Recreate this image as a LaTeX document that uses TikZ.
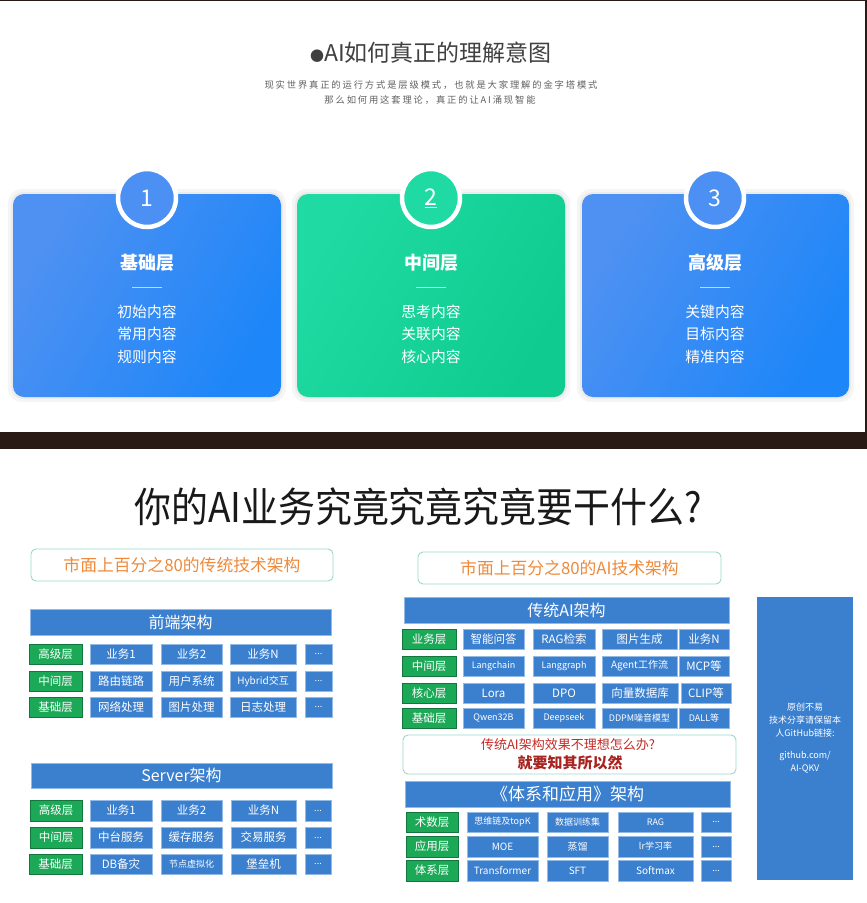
\documentclass[tikz,border=0pt]{standalone}
\usepackage{fontspec}
\newfontfamily\cjk{Noto Sans CJK SC}
\newfontfamily\cjkls[LetterSpace=20]{Noto Sans CJK SC}
\definecolor{bbox}{HTML}{3B7FCF}
\definecolor{gbox}{HTML}{1BA957}
\definecolor{cardA}{HTML}{4F91F2}
\definecolor{cardB}{HTML}{1D86F8}
\definecolor{cardGA}{HTML}{1FDBA3}
\definecolor{cardGB}{HTML}{0FCB8F}
\definecolor{darkband}{HTML}{2A1A15}
\definecolor{orangeT}{HTML}{EE8A3A}
\definecolor{redT}{HTML}{C62A27}
\definecolor{tealB}{HTML}{9AD8CC}
\newcommand\bx[7]{\node[#6, minimum width={(#4)-(#2)}, minimum height={(#5)-(#3)}] (#1) at ({(#2+#4)/2},{(#3+#5)/2}) {#7};}
\begin{document}
\begin{tikzpicture}[x=1pt,y=-1pt,
  every node/.style={font=\cjk, inner sep=0pt},
  f12/.style={font=\cjk\fontsize{11.5}{12}\selectfont},
  f10/.style={font=\cjk\fontsize{10}{11}\selectfont},
  f9/.style={font=\cjk\fontsize{9}{10}\selectfont},
  bb/.style={fill=bbox, draw=bbox!55!white, line width=0.6pt, text=white, f12},
  gb/.style={fill=gbox, draw=gbox!70!black, line width=0.6pt, text=white, f12},
  bar/.style={fill=bbox, draw=bbox!55!white, line width=0.6pt, text=white, font=\cjk\fontsize{16}{17}\selectfont},
  hdr/.style={draw=tealB, line width=0.9pt, rounded corners=5pt, fill=white},
  numc/.style={circle, draw=white, line width=4.5pt, minimum size=58pt, text=white, font=\cjk\fontsize{23}{23}\selectfont},
  ctitle/.style={text=white, font=\cjk\bfseries\fontsize{18}{18}\selectfont},
  citems/.style={text=white, align=center, font=\cjk\fontsize{14.8}{22.5}\selectfont}
]
\useasboundingbox (0,0) rectangle (867,903);
\fill[white] (0,0) rectangle (867,903);
\fill[darkband] (0,432) rectangle (867,449);
\fill[darkband] (865,0) rectangle (867,432);
\fill[darkband] (0,0) rectangle (865,1);

% ---------- top section ----------
\node[font=\cjk\fontsize{23}{23}\selectfont, text=black!75] (t1) at (431,53) {{\fontsize{14}{14}\selectfont ●}AI如何真正的理解意图};
\node[font=\cjkls\fontsize{9.3}{10}\selectfont, text=black!62] (s1) at (431,85) {现实世界真正的运行方式是层级模式，也就是大家理解的金字塔模式};
\node[font=\cjkls\fontsize{9.3}{10}\selectfont, text=black!62] (s2) at (430,100) {那么如何用这套理论，真正的让AI涌现智能};

% card shadows
\foreach \a/\b in {13/281, 297/565, 582/849}{
  \fill[black, opacity=0.04, rounded corners=14pt] (\a-5,189) rectangle (\b+5,402);
  \fill[black, opacity=0.04, rounded corners=12pt] (\a-2,192) rectangle (\b+2,399);
}
\shade[rounded corners=11pt, left color=cardA, right color=cardB, shading angle=60] (13,194) rectangle (281,397);
\shade[rounded corners=11pt, left color=cardGA, right color=cardGB, shading angle=60] (297,194) rectangle (565,397);
\shade[rounded corners=11pt, left color=cardA, right color=cardB, shading angle=60] (582,194) rectangle (849,397);

\node[numc, fill=cardA!92!cardB] (n1) at (147,198) {1};
\node[numc, fill=cardGA] (n2) at (431,198) {\underline{2}};
\node[numc, fill=cardA!92!cardB] (n3) at (715,198) {3};

\node[ctitle] (h1) at (147,263) {基础层};
\node[ctitle] (h2) at (431,263) {中间层};
\node[ctitle] (h3) at (715,263) {高级层};
\draw[white!65!cardA, line width=0.6pt] (132,287) -- (162,287);
\draw[white!65!cardGA, line width=0.6pt] (416,287) -- (446,287);
\draw[white!65!cardA, line width=0.6pt] (700,287) -- (730,287);
\node[citems] (c1) at (147,334) {初始内容\\常用内容\\规则内容};
\node[citems] (c2) at (431,334) {思考内容\\关联内容\\核心内容};
\node[citems] (c3) at (715,334) {关键内容\\目标内容\\精准内容};

% ---------- bottom section ----------
\node[font=\cjk\fontsize{41}{41}\selectfont, xscale=0.9, text=black!90] (mt) at (418,507) {你的AI业务究竟究竟究竟要干什么?};

% left panel
\bx{lh}{31}{549}{333}{581}{hdr, text=orangeT, font=\cjk\fontsize{16.8}{17}\selectfont}{市面上百分之80的传统技术架构}
\bx{fe}{30}{609}{331}{635}{bar}{前端架构}
\bx{fa1}{29}{644}{82}{664}{gb}{高级层}
\bx{fa2}{90}{644}{152}{664}{bb}{业务1}
\bx{fa3}{161}{644}{222}{664}{bb}{业务2}
\bx{fa4}{230}{644}{296}{664}{bb}{业务N}
\bx{fa5}{305}{644}{332}{664}{bb,f9}{...}
\bx{fb1}{29}{671}{82}{691}{gb}{中间层}
\bx{fb2}{90}{671}{152}{691}{bb}{路由链路}
\bx{fb3}{161}{671}{222}{691}{bb}{用户系统}
\bx{fb4}{230}{671}{296}{691}{bb,f10}{Hybrid交互}
\bx{fb5}{305}{671}{332}{691}{bb,f9}{...}
\bx{fc1}{29}{697}{82}{717}{gb}{基础层}
\bx{fc2}{90}{697}{152}{717}{bb}{网络处理}
\bx{fc3}{161}{697}{222}{717}{bb}{图片处理}
\bx{fc4}{230}{697}{296}{717}{bb}{日志处理}
\bx{fc5}{305}{697}{332}{717}{bb,f9}{...}

\bx{sv}{31}{763}{332}{788}{bar}{Server架构}
\bx{sa1}{30}{800}{82}{821}{gb}{高级层}
\bx{sa2}{90}{800}{152}{821}{bb}{业务1}
\bx{sa3}{161}{800}{222}{821}{bb}{业务2}
\bx{sa4}{231}{800}{296}{821}{bb}{业务N}
\bx{sa5}{305}{800}{331}{821}{bb,f9}{...}
\bx{sb1}{30}{827}{82}{848}{gb}{中间层}
\bx{sb2}{90}{827}{152}{848}{bb}{中台服务}
\bx{sb3}{161}{827}{222}{848}{bb}{缓存服务}
\bx{sb4}{231}{827}{296}{848}{bb}{交易服务}
\bx{sb5}{305}{827}{331}{848}{bb,f9}{...}
\bx{sc1}{29}{854}{82}{874}{gb}{基础层}
\bx{sc2}{90}{854}{152}{874}{bb}{DB备灾}
\bx{sc3}{161}{854}{222}{874}{bb,f9}{节点虚拟化}
\bx{sc4}{231}{854}{296}{874}{bb}{堡垒机}
\bx{sc5}{305}{854}{331}{874}{bb,f9}{...}

% right panel
\bx{rh}{418}{552}{721}{584}{hdr, text=orangeT, font=\cjk\fontsize{16.8}{17}\selectfont}{市面上百分之80的AI技术架构}
\bx{ai}{404}{597}{729}{623}{bar}{传统AI架构}
\bx{ra1}{402}{629}{456}{649}{gb}{业务层}
\bx{ra2}{463}{629}{524}{649}{bb}{智能问答}
\bx{ra3}{533}{629}{595}{649}{bb}{RAG检索}
\bx{ra4}{602}{629}{677}{649}{bb}{图片生成}
\bx{ra5}{679}{629}{729}{649}{bb}{业务N}
\bx{rb1}{402}{656}{456}{676}{gb}{中间层}
\bx{rb2}{463}{656}{524}{676}{bb,f9}{Langchain}
\bx{rb3}{533}{656}{595}{676}{bb,f9}{Langgraph}
\bx{rb4}{602}{656}{677}{676}{bb,f10}{Agent工作流}
\bx{rb5}{679}{656}{729}{676}{bb}{MCP等}
\bx{rc1}{402}{683}{456}{703}{gb}{核心层}
\bx{rc2}{463}{683}{524}{703}{bb}{Lora}
\bx{rc3}{533}{683}{595}{703}{bb}{DPO}
\bx{rc4}{602}{683}{678}{703}{bb}{向量数据库}
\bx{rc5}{681}{683}{731}{703}{bb}{CLIP等}
\bx{rd1}{402}{708}{456}{728}{gb}{基础层}
\bx{rd2}{463}{708}{524}{728}{bb,f9}{Qwen32B}
\bx{rd3}{533}{708}{595}{728}{bb,f9}{Deepseek}
\bx{rd4}{602}{708}{677}{728}{bb,f9}{DDPM噪音模型}
\bx{rd5}{679}{708}{729}{728}{bb,f9}{DALL等}

\bx{qb}{403}{735}{736}{774}{hdr}{}
\node[text=redT, font=\cjk\fontsize{13}{13}\selectfont] (q1) at (568,745) {传统AI架构效果不理想怎么办?};
\node[text=redT!85!black, font=\cjk\bfseries\fontsize{15}{15}\selectfont] (q2) at (570,763) {就要知其所以然};

\bx{ys}{405}{781}{730}{807}{bar, font=\cjk\fontsize{17}{17}\selectfont}{《体系和应用》架构}
\bx{ya1}{406}{812}{458}{832}{gb}{术数层}
\bx{ya2}{467}{812}{538}{832}{bb,f9}{思维链及topK}
\bx{ya3}{547}{812}{608}{832}{bb,f9}{数据训练集}
\bx{ya4}{618}{812}{693}{832}{bb,f9}{RAG}
\bx{ya5}{701}{812}{731}{832}{bb,f9}{...}
\bx{yb1}{406}{836}{458}{857}{gb}{应用层}
\bx{yb2}{467}{836}{538}{857}{bb,f10}{MOE}
\bx{yb3}{547}{836}{608}{857}{bb,f10}{蒸馏}
\bx{yb4}{618}{836}{693}{857}{bb,f9}{lr学习率}
\bx{yb5}{701}{836}{731}{857}{bb,f9}{...}
\bx{yc1}{406}{860}{458}{881}{gb}{体系层}
\bx{yc2}{467}{860}{538}{881}{bb,f10}{Transformer}
\bx{yc3}{547}{860}{608}{881}{bb,f10}{SFT}
\bx{yc4}{618}{860}{693}{881}{bb,f10}{Softmax}
\bx{yc5}{701}{860}{731}{881}{bb,f9}{...}

\bx{vb}{757}{597}{853}{880}{fill=bbox}{}
\node[text=white, align=center, font=\cjk\fontsize{9}{13}\selectfont] (vt) at (805,738) {原创不易\\技术分享请保留本\\人GitHub链接:\\[9pt]github.com/\\AI-QKV};
\end{tikzpicture}
\end{document}
